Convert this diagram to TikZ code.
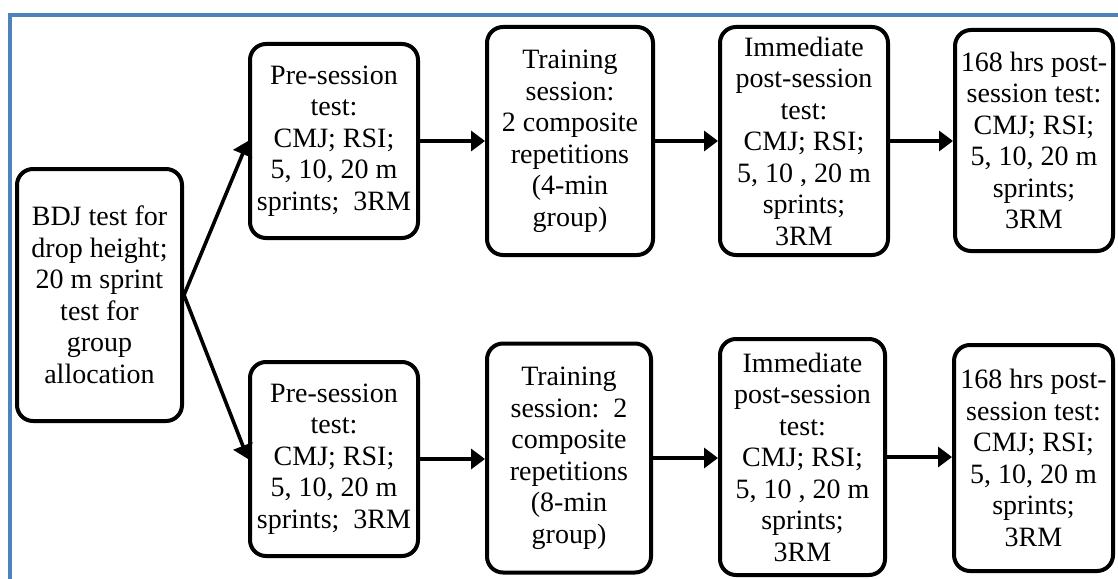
\documentclass[tikz,border=0pt]{standalone}
\usepackage{fontspec}
\setmainfont{Liberation Serif}
\usetikzlibrary{arrows.meta}
\definecolor{framebl}{RGB}{79,129,189}
\begin{document}
\begin{tikzpicture}[x=1pt,y=-1pt,
  box/.style={draw, line width=4pt, rounded corners=16pt, inner sep=0pt,
    align=center, fill=white, font=\fontsize{28}{31.5}\selectfont},
  arr/.style={line width=3.6pt, -{Triangle[length=14pt,width=20pt]}},
  frameline/.style={draw=framebl, line width=4pt}]
\useasboundingbox (0,0) rectangle (1118,578);
% frame (right and bottom sides lie outside the picture)
\coordinate (fbl) at (10,580);
\coordinate (ftl) at (10,15);
\coordinate (ftr) at (1120,15);
\draw[frameline] (fbl) -- (ftl) -- (ftr);
% nodes
\node[box, minimum width=165pt, minimum height=252pt] (bdj) at (99.5,295)
  {BDJ test for\\drop height;\\20 m sprint\\test for\\group\\allocation};
\node[box, minimum width=168pt, minimum height=194pt] (pre1) at (334,141)
  {Pre-session\\test:\\CMJ; RSI;\\5, 10, 20 m\\sprints;\ \ 3RM};
\node[box, minimum width=168pt, minimum height=194pt] (pre2) at (334,459)
  {Pre-session\\test:\\CMJ; RSI;\\5, 10, 20 m\\sprints;\ \ 3RM};
\node[box, minimum width=166pt, minimum height=228pt] (tr1) at (570,141)
  {Training\\session:\\2 composite\\repetitions\\(4-min\\group)};
\node[box, minimum width=164pt, minimum height=229pt] (tr2) at (569,458)
  {Training\\session:\ \ 2\\composite\\repetitions\\(8-min\\group)};
\node[box, minimum width=168pt, minimum height=228pt] (im1) at (804,141)
  {Immediate\\post-session\\test:\\CMJ; RSI;\\5, 10 , 20 m\\sprints;\\3RM};
\node[box, minimum width=165pt, minimum height=236pt] (im2) at (802.5,457)
  {Immediate\\post-session\\test:\\CMJ; RSI;\\5, 10 , 20 m\\sprints;\\3RM};
\node[box, minimum width=158pt, minimum height=221pt] (hr1) at (1034,140.5)
  {168 hrs post-\\session test:\\CMJ; RSI;\\5, 10, 20 m\\sprints;\\3RM};
\node[box, minimum width=159pt, minimum height=226pt] (hr2) at (1033.5,458)
  {168 hrs post-\\session test:\\CMJ; RSI;\\5, 10, 20 m\\sprints;\\3RM};
% connectors
\draw[arr] (bdj.east) -- (pre1.west);
\draw[arr] (bdj.east) -- (pre2.west);
\draw[arr] (pre1.east) -- (pre1.east -| tr1.west);
\draw[arr] (tr1.east) -- (tr1.east -| im1.west);
\draw[arr] (im1.east) -- (im1.east -| hr1.west);
\draw[arr] (pre2.east) -- (pre2.east -| tr2.west);
\draw[arr] (tr2.east) -- (tr2.east -| im2.west);
\draw[arr] (im2.east) -- (im2.east -| hr2.west);
\end{tikzpicture}
\end{document}
